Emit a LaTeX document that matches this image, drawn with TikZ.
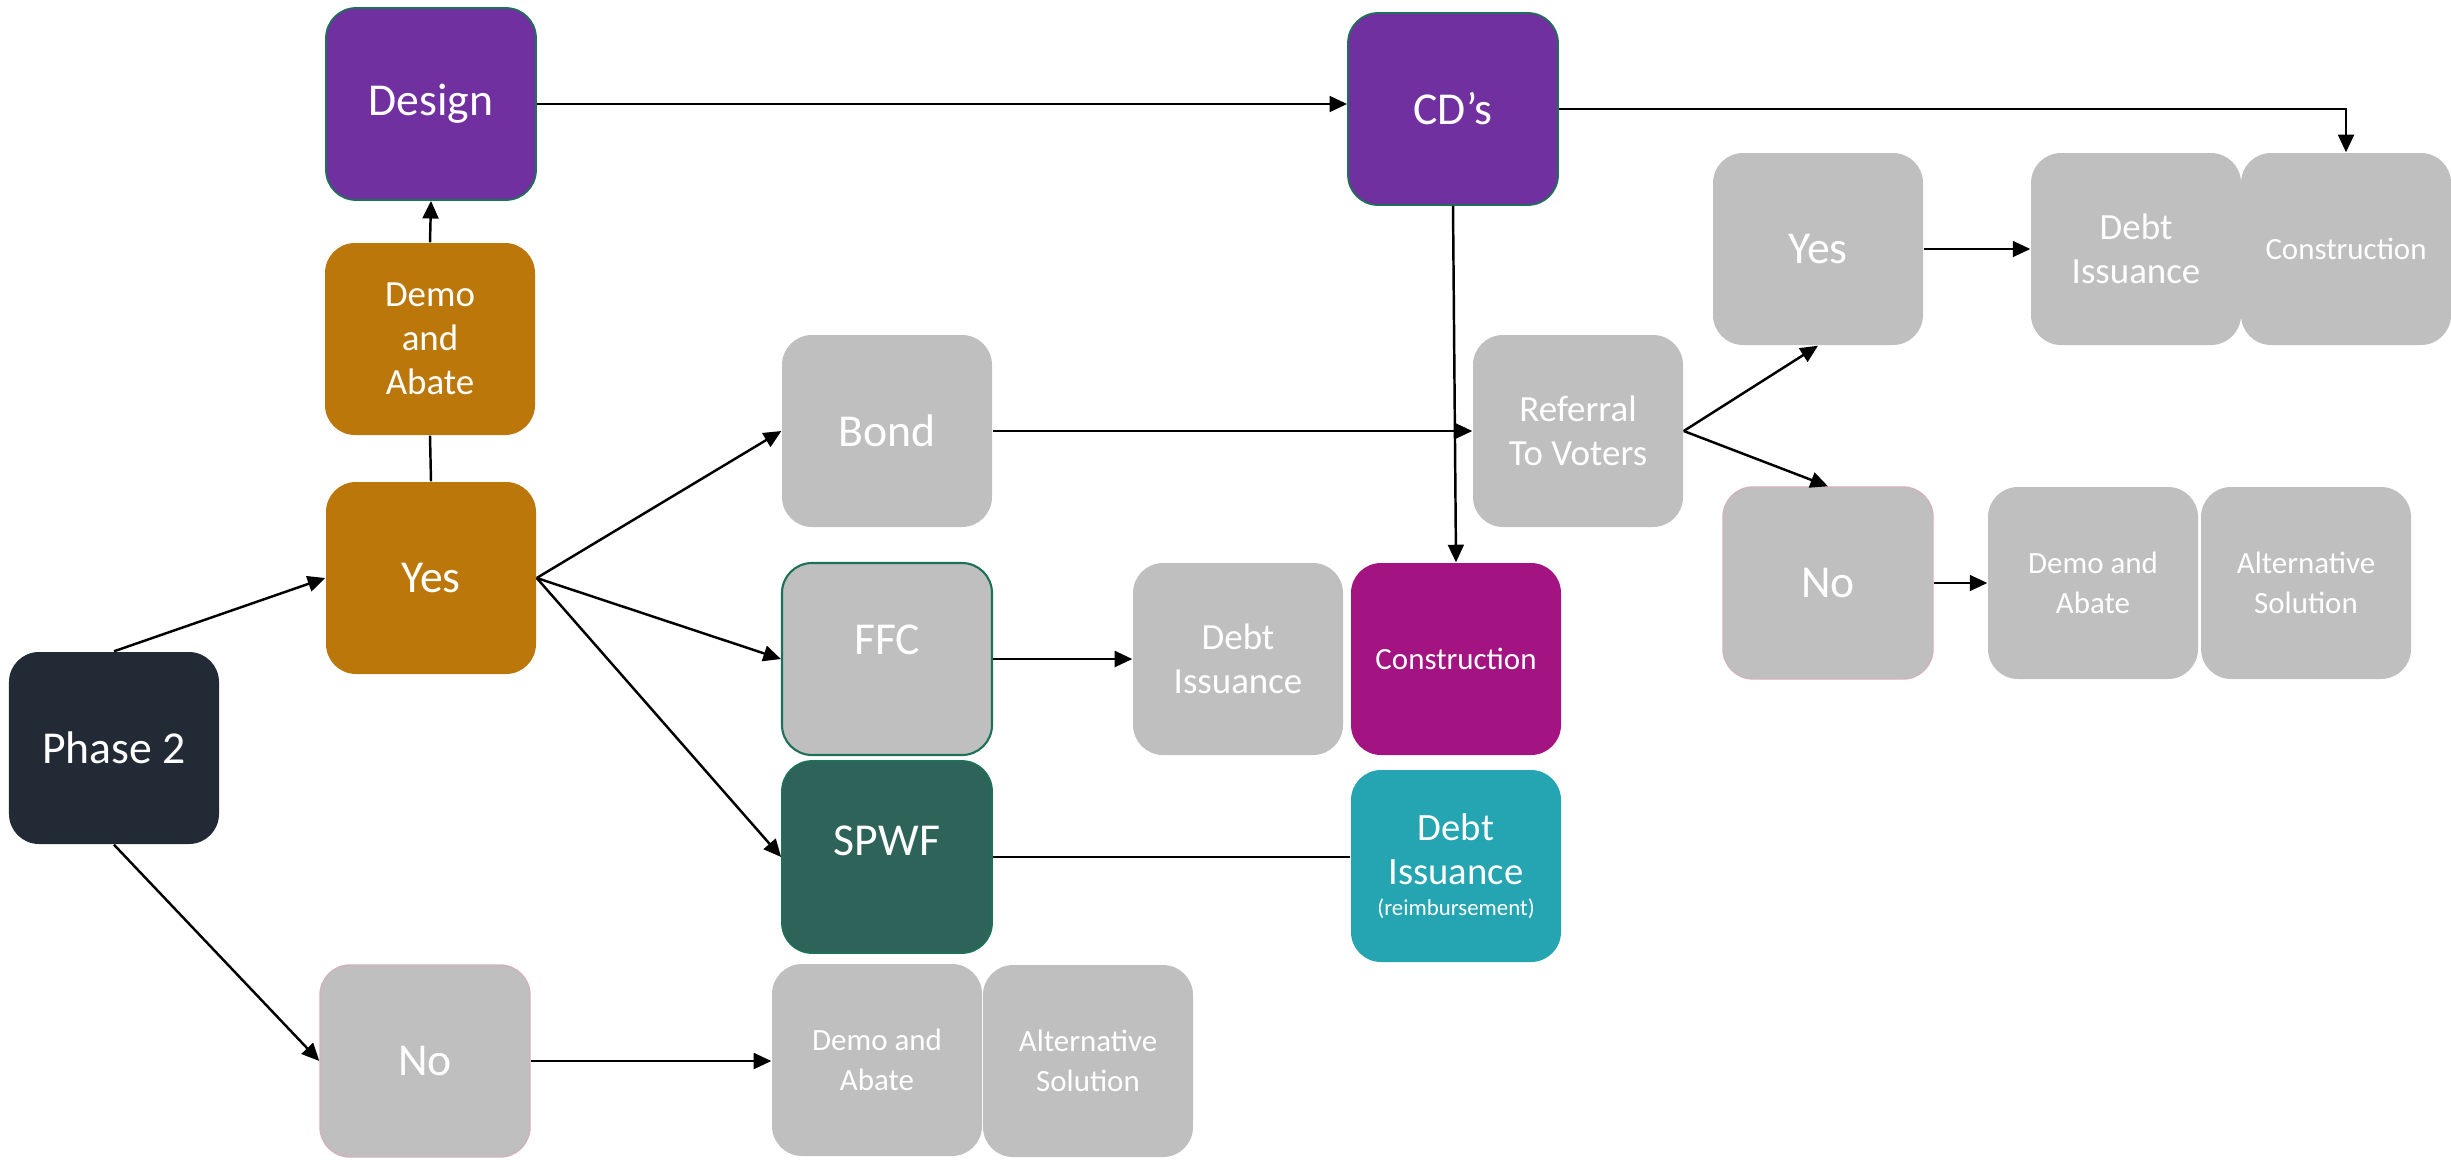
\documentclass[tikz,border=0pt]{standalone}
\usepackage{fontspec}
\setmainfont{Carlito}
\usetikzlibrary{arrows.meta}

\definecolor{designpurple}{HTML}{7030A0}
\definecolor{demoorange}{HTML}{BC770A}
\definecolor{phasenavy}{HTML}{222A35}
\definecolor{boxgray}{HTML}{BFBFBF}
\definecolor{spwfgreen}{HTML}{2E635A}
\definecolor{edgegreen}{HTML}{1F7058}
\definecolor{consmagenta}{HTML}{A31482}
\definecolor{reimbteal}{HTML}{25A5B2}
\definecolor{nopink}{HTML}{D2B2BA}

\begin{document}
\begin{tikzpicture}[
  flownode/.style={rectangle, rounded corners=0.3cm, minimum width=2.1cm, minimum height=1.92cm, align=center, text=white, inner sep=1pt},
  bigtext/.style={font=\fontsize{13}{15.6}\selectfont},
  midtext/.style={font=\fontsize{10.5}{12.6}\selectfont},
  smalltext/.style={font=\fontsize{8.8}{11.2}\selectfont},
  graynode/.style={flownode, fill=boxgray},
  flowarrow/.style={-{Triangle[length=5pt, width=4.5pt]}, line width=0.7pt},
  flowline/.style={line width=0.7pt}
]
\useasboundingbox (0,0) rectangle (24.51,11.59);

% Left column
\node[flownode, bigtext, fill=phasenavy] (phase) at (1.14, 4.11) {Phase 2};
\node[flownode, bigtext, fill=demoorange] (yes) at (4.31, 5.81) {Yes};
\node[flownode, midtext, fill=demoorange] (demo) at (4.30, 8.20) {Demo\\and\\Abate};
\node[flownode, bigtext, fill=designpurple, draw=edgegreen, line width=0.5pt] (design) at (4.31, 10.55) {Design};
\node[graynode, bigtext, draw=nopink, line width=0.4pt] (no) at (4.25, 0.98) {No};

% Funding options
\node[graynode, bigtext] (bond) at (8.87, 7.28) {Bond};
\node[graynode, bigtext, draw=edgegreen, line width=0.6pt, text depth=0.38cm] (ffc) at (8.87, 5.00) {FFC};
\node[flownode, bigtext, fill=spwfgreen, draw=edgegreen, line width=0.5pt, text depth=0.32cm] (spwf) at (8.87, 3.02) {SPWF};
\node[graynode, smalltext] (demob) at (8.77, 0.99) {Demo and\\Abate};
\node[graynode, smalltext] (altb) at (10.88, 0.98) {Alternative\\Solution};

\node[graynode, midtext] (debtm) at (12.38, 5.00) {Debt\\Issuance};
\node[flownode, smalltext, fill=consmagenta] (consm) at (14.56, 5.00) {Construction};
\node[flownode, fill=reimbteal, font=\fontsize{11}{12.6}\selectfont] (debtr) at (14.56, 2.93)
  {Debt\\Issuance\\[-4pt]{\fontsize{6.5}{8}\selectfont(reimbursement)}};

\node[flownode, bigtext, fill=designpurple, draw=edgegreen, line width=0.5pt] (cds) at (14.53, 10.50) {CD’s};

% Referral branch
\node[graynode, midtext] (referral) at (15.78, 7.28) {Referral\\To Voters};
\node[graynode, bigtext] (yesr) at (18.18, 9.10) {Yes};
\node[graynode, midtext] (debtq) at (21.36, 9.10) {Debt\\Issuance};
\node[graynode, smalltext] (consq) at (23.46, 9.10) {Construction};
\node[graynode, bigtext, draw=nopink, line width=0.4pt] (nor) at (18.28, 5.76) {No};
\node[graynode, smalltext] (demor) at (20.93, 5.76) {Demo and\\Abate};
\node[graynode, smalltext] (altr) at (23.06, 5.76) {Alternative\\Solution};

% Arrows
\draw[flowarrow] (phase.north) -- (yes.west);
\draw[flowarrow] (phase.south) -- (no.west);
\draw[flowline] (yes.north) -- (demo.south);
\draw[flowarrow] (demo.north) -- (design.south);
\draw[flowarrow] (design.east) -- (design.east -| cds.west);
\draw[flowarrow] (yes.east) -- (bond.west);
\draw[flowarrow] (yes.east) -- (ffc.west);
\draw[flowarrow] (yes.east) -- (spwf.west);
\draw[flowarrow] (no.east) -- (no.east -| demob.west);
\draw[flowarrow] (bond.east) -- (referral.west);
\draw[flowarrow] (ffc.east) -- (debtm.west);
\draw[flowline] (spwf.east) -- (spwf.east -| debtr.west);
\draw[flowarrow] (cds.south) -- (consm.north);
\draw[flowarrow] (cds.east) -| (consq.north);
\draw[flowarrow] (referral.east) -- (yesr.south);
\draw[flowarrow] (referral.east) -- (nor.north);
\draw[flowarrow] (yesr.east) -- (debtq.west);
\draw[flowarrow] (nor.east) -- (demor.west);

\end{tikzpicture}
\end{document}
